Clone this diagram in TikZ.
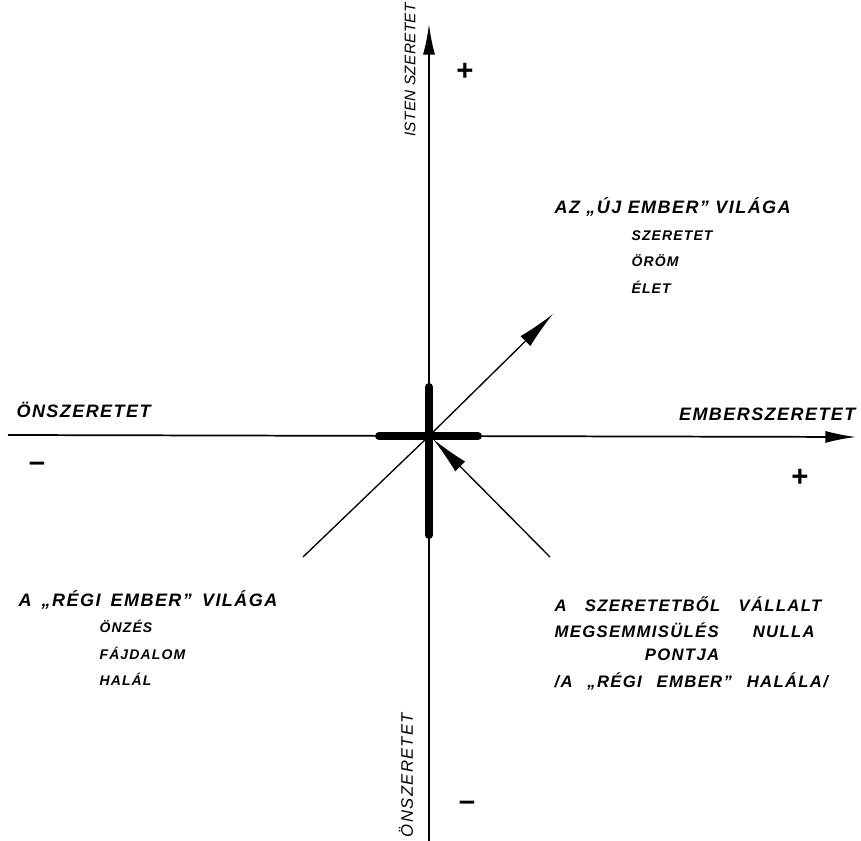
\documentclass[tikz,border=0pt]{standalone}
\usepackage{fontspec}
\setmainfont{Liberation Sans}[LetterSpace=8]
\usetikzlibrary{positioning,arrows.meta}

\begin{document}
\begin{tikzpicture}[x=0.75pt, y=-0.75pt,
    axis/.style={line width=1.3pt},
    ray/.style={line width=1pt},
    bar/.style={line width=6pt, line cap=round},
    axtip/.style={-{Latex[length=23pt, width=9pt]}},
    raytip/.style={-{Latex[length=29pt, width=10.5pt]}},
    lbl/.style={font=\fontsize{13.5}{16}\selectfont\itshape\bfseries, inner sep=1pt},
    vlbl/.style={font=\itshape, inner sep=1pt, rotate=90},
    txt/.style={font=\fontsize{12.5}{14}\selectfont\itshape\bfseries, inner sep=1pt, anchor=west},
    sub/.style={font=\fontsize{10.5}{19.8}\selectfont\itshape\bfseries, inner sep=1pt, align=left, anchor=north west},
    sgn/.style={font=\fontsize{22}{22}\selectfont\bfseries, inner sep=0pt}]
  \useasboundingbox (0,0) rectangle (861,841);
  \coordinate (o) at (429,436);
  \coordinate (n) at (429,24);
  \coordinate (s) at (429,841);
  \coordinate (w) at (8,435);
  \coordinate (e) at (856,437);
  \coordinate (ne) at (553,314);
  \coordinate (sw) at (303,557);
  \coordinate (se) at (550,557);
  \coordinate (setip) at (433,439);
  % axes
  \draw[axis] (o) -- (s);
  \draw[axis, axtip] (o) -- (n);
  \draw[axis] (o) -- (w);
  \draw[axis, axtip] (o) -- (e);
  % rays
  \draw[ray] (o) -- (sw);
  \draw[ray, raytip] (o) -- (ne);
  \draw[ray, raytip] (se) -- (setip);
  % thick cross
  \draw[bar] (429,387) -- (429,535);
  \draw[bar] (379,436) -- (478,436);
  % axis labels
  \node (isten) [vlbl] at (410,70)
    {\fontsize{11.5}{13}\selectfont\addfontfeatures{LetterSpace=2}ISTEN SZERETET};
  \node (onsz2) [vlbl] at (406,775)
    {\fontsize{12.5}{14}\selectfont ÖNSZERETET};
  \node (onsz1) [lbl, anchor=west] at (15,410) {ÖNSZERETET};
  \node (embsz) [lbl, anchor=east] at (857,414) {EMBERSZERETET};
  \node (plusn) [sgn] at (465,72) {+};
  \node (pluse) [sgn] at (800,478) {+};
  \node (minw) [sgn] at (37,467) {–};
  \node (mins) [sgn] at (467,806) {–};
  % new man
  \node (uj) [lbl, anchor=west] at (553,207) {AZ „ÚJ EMBER” VILÁGA};
  \node (ujlist) [sub] at (630,229) {SZERETET\\ÖRÖM\\ÉLET};
  % old man
  \node (regi) [lbl, anchor=west] at (17,600) {\makebox[194pt][s]{A „RÉGI EMBER” VILÁGA}};
  \node (regilist) [sub] at (98,619) {ÖNZÉS\\FÁJDALOM\\HALÁL};
  % zero point
  \node (nulla1) [txt] at (553,604) {\makebox[200pt][s]{A SZERETETBŐL VÁLLALT}};
  \node (nulla2) [txt] at (553,630) {\makebox[195pt][s]{MEGSEMMISÜLÉS NULLA}};
  \node (nulla3) [txt, anchor=center] at (682,655) {PONTJA};
  \node (nulla4) [txt] at (553,681) {\makebox[205pt][s]{/A „RÉGI EMBER” HALÁLA/}};
\end{tikzpicture}
\end{document}
